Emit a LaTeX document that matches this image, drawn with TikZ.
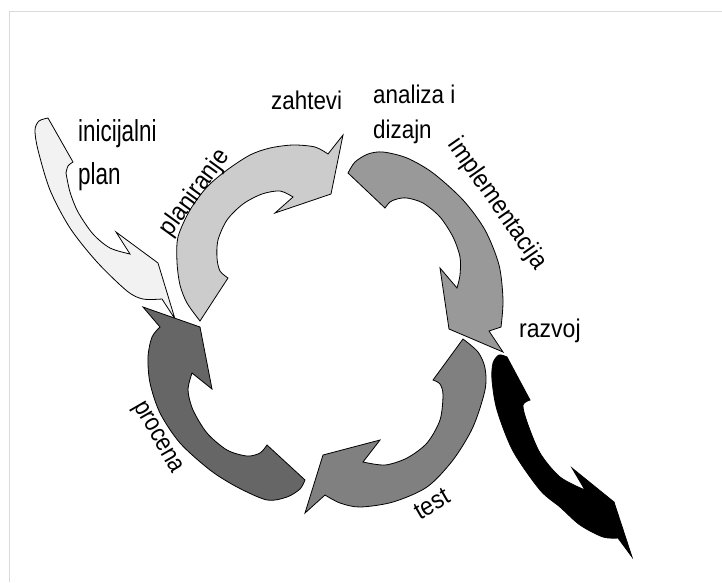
\documentclass[tikz,border=0pt]{standalone}
\usepackage{fontspec}
\setmainfont{Liberation Sans}
\definecolor{initfill}{HTML}{F2F2F2}
\definecolor{planfill}{HTML}{CCCCCC}
\definecolor{implfill}{HTML}{999999}
\definecolor{testfill}{HTML}{808080}
\definecolor{procfill}{HTML}{666666}
\definecolor{framegray}{HTML}{D9D9D9}
\begin{document}
\begin{tikzpicture}[x=1pt, y=-1pt, line join=miter,
  arrowshape/.style={draw=black, line width=0.8pt},
  lab/.style={inner sep=0pt, font=\fontsize{25.6}{30}\selectfont},
  biglab/.style={inner sep=0pt, font=\fontsize{30.3}{36}\selectfont}]
\useasboundingbox (0,0) rectangle (722,582);
% page frame
\draw[framegray, line width=0.8pt] (9,582) -- (9,11) -- (722,11);

% initial plan arrow
\filldraw[arrowshape, fill=initfill] (48,118) -- (73,162)
  -- plot[smooth] coordinates {(73,162) (68,166) (66,173)}
  -- plot[smooth] coordinates {(66,173) (70,192) (78,212) (93,234) (110,248) (130,254)}
  -- (116,232) -- (158,263) -- (175,319) -- (162,299)
  -- plot[smooth] coordinates {(162,299) (143,299) (127,291) (97,262) (70,228) (50,190) (38,150) (35,130) (39,121) (48,118)}
  -- cycle;

% planning
\filldraw[arrowshape, fill=planfill] (200,321) -- (228,278)
  -- plot[smooth] coordinates {(228,278) (220,271) (217,258) (218,240) (227,220) (243,204) (262,194) (280,191) (293,197)}
  -- (275,213) -- (331,194) -- (343,135) -- (328,154)
  -- plot[smooth] coordinates {(328,154) (315,147) (293,145) (270,148) (250,155) (227,170) (207,187) (190,210) (178,237) (177,262) (180,285) (187,303) (200,321)}
  -- cycle;

% implementation
\filldraw[arrowshape, fill=implfill] (348,173) -- (385,208)
  -- plot[smooth] coordinates {(385,208) (390,202) (397,199) (407,198) (423,203) (440,217) (453,237) (460,257) (460,275) (457,288)}
  -- (440,268) -- (449,329) -- (503,352) -- (489,331) -- (501,327)
  -- plot[smooth] coordinates {(501,327) (503,300) (499,265) (485,230) (463,200) (433,173) (407,158) (383,152) (368,154) (355,162) (348,173)}
  -- cycle;

% test
\filldraw[arrowshape, fill=testfill] (463,339) -- (433,380)
  -- plot[smooth] coordinates {(433,380) (440,384) (443,395) (440,420) (427,443) (407,458) (385,465) (363,462)}
  -- (380,440) -- (323,455) -- (305,513) -- (325,495)
  -- plot[smooth] coordinates {(325,495) (340,503) (360,507) (393,502) (427,487) (453,460) (473,427) (485,390) (485,368) (478,352) (463,339)}
  -- cycle;

% assessment
\filldraw[arrowshape, fill=procfill] (143,307) -- (200,327) -- (212,389) -- (192,373)
  -- plot[smooth] coordinates {(192,373) (188,390) (193,410) (207,433) (227,450) (247,456) (260,453) (267,445)}
  -- (305,480)
  -- plot[smooth] coordinates {(305,480) (300,489) (287,497) (267,500) (237,487) (210,470) (180,443) (160,413) (150,383) (148,357) (152,337) (160,327)}
  -- cycle;

% development (outgoing)
\filldraw[arrowshape, fill=black] (507,357) -- (530,400)
  -- plot[smooth] coordinates {(530,400) (523,405) (527,422) (540,453) (560,477) (585,490)}
  -- (572,468) -- (614,502) -- (632,557) -- (618,538)
  -- plot[smooth] coordinates {(618,538) (603,537) (580,525) (560,507) (540,490) (513,451) (497,410) (492,380) (493,363) (499,355) (507,357)}
  -- cycle;

% labels
\node[biglab, anchor=base west, xscale=0.74] (ini1) at (78,141.7) {inicijalni};
\node[biglab, anchor=base west, xscale=0.74] (ini2) at (78,184) {plan};
\node[lab, anchor=base west, xscale=0.875] (zah) at (271,109.3) {zahtevi};
\node[lab, anchor=base west, xscale=0.875] (ana1) at (373,103.3) {analiza i};
\node[lab, anchor=base west, xscale=0.875] (ana2) at (373,138.5) {dizajn};
\node[lab, anchor=base west, xscale=0.9] (raz) at (519,337) {razvoj};
\node[lab, rotate=54, xscale=0.9] (plan) at (195,193) {planiranje};
\node[lab, rotate=-55, xscale=0.9] (impl) at (497,204) {implementacija};
\node[lab, rotate=-60, xscale=0.85] (proc) at (157,438) {procena};
\node[lab, rotate=30, xscale=0.9] (tst) at (432,504) {test};
\end{tikzpicture}
\end{document}
